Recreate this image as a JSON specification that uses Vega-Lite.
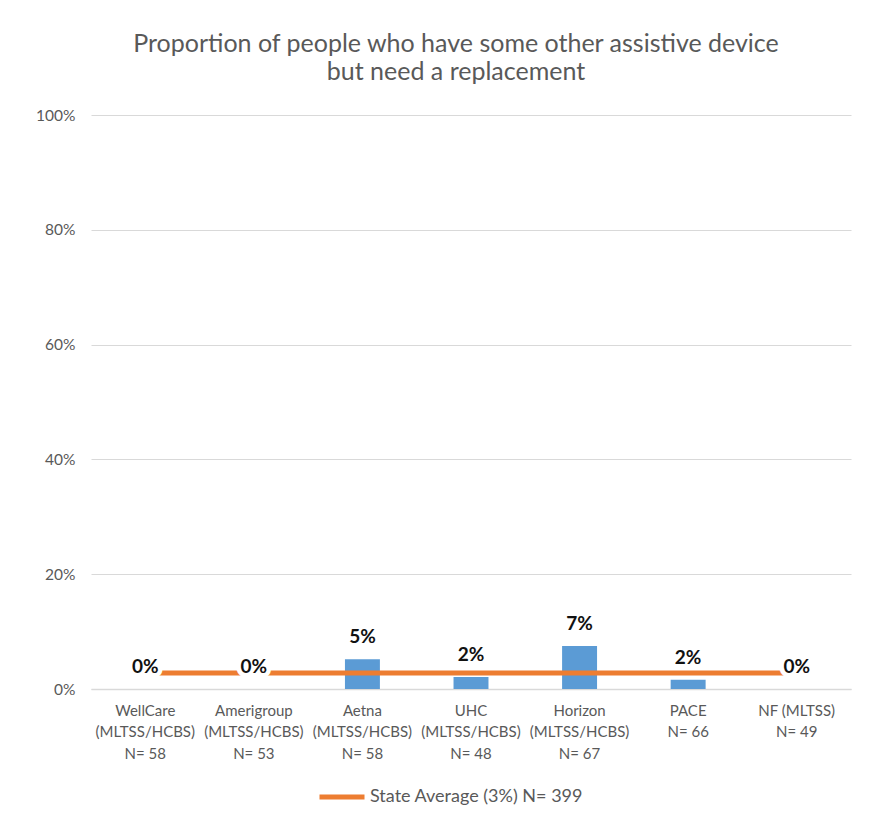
{
  "$schema": "https://vega.github.io/schema/vega-lite/v6.json",
  "width": 760,
  "height": 574,
  "autosize": {"type": "none"},
  "padding": {"left": 91, "top": 115, "right": 29, "bottom": 138},
  "background": "white",
  "config": {
    "font": "Lato",
    "view": {"stroke": null},
    "axis": {"labelFont": "Lato", "labelColor": "#595959", "labelFontSize": 15}
  },
  "title": {
    "text": ["Proportion of people who have some other assistive device", "but need a replacement"],
    "fontSize": 25,
    "fontWeight": "normal",
    "color": "#595959",
    "font": "Lato",
    "anchor": "middle",
    "frame": "group",
    "dx": -15,
    "offset": 23,
    "lineHeight": 28
  },
  "data": {
    "values": [
      {"plan": "WellCare|(MLTSS/HCBS)|N= 58", "value": 0.0, "avg": 0.028, "label": "0%"},
      {"plan": "Amerigroup|(MLTSS/HCBS)|N= 53", "value": 0.0, "avg": 0.028, "label": "0%"},
      {"plan": "Aetna|(MLTSS/HCBS)|N= 58", "value": 0.052, "avg": 0.028, "label": "5%"},
      {"plan": "UHC|(MLTSS/HCBS)|N= 48", "value": 0.021, "avg": 0.028, "label": "2%"},
      {"plan": "Horizon|(MLTSS/HCBS)|N= 67", "value": 0.075, "avg": 0.028, "label": "7%"},
      {"plan": "PACE|N= 66", "value": 0.016, "avg": 0.028, "label": "2%"},
      {"plan": "NF (MLTSS)|N= 49", "value": 0.0, "avg": 0.028, "label": "0%"}
    ]
  },
  "encoding": {
    "x": {
      "field": "plan",
      "type": "nominal",
      "sort": null,
      "scale": {"paddingInner": 0.678, "paddingOuter": 0.339},
      "axis": {
        "title": null,
        "labelAngle": 0,
        "labelExpr": "split(datum.label, '|')",
        "labelLineHeight": 21.5,
        "labelPadding": 14,
        "labelBaseline": "top",
        "ticks": false,
        "domainColor": "#D9D9D9",
        "domainWidth": 1.5
      }
    },
    "y": {
      "field": "value",
      "type": "quantitative",
      "scale": {"domain": [0, 1]},
      "axis": {
        "title": null,
        "format": ".0%",
        "values": [0, 0.2, 0.4, 0.6, 0.8, 1],
        "labelOverlap": false,
        "domain": false,
        "ticks": false,
        "gridColor": "#D9D9D9",
        "gridWidth": 1,
        "labelPadding": 16,
        "labelFontSize": 15.5
      }
    }
  },
  "layer": [
    {
      "mark": {"type": "bar", "color": "#5B9BD5"}
    },
    {
      "mark": {"type": "line", "strokeWidth": 5},
      "encoding": {
        "y": {"field": "avg", "type": "quantitative"},
        "color": {
          "datum": "State Average (3%) N= 399",
          "type": "nominal",
          "scale": {"range": ["#ED7D31"]},
          "legend": {
            "title": null,
            "orient": "none",
            "legendX": 226,
            "legendY": 657,
            "symbolType": "stroke",
            "symbolSize": 2025,
            "symbolStrokeWidth": 5,
            "labelFont": "Lato",
            "labelFontSize": 18,
            "labelColor": "#595959",
            "labelOffset": 3,
            "labelLimit": 0
          }
        }
      }
    },
    {
      "mark": {"type": "text", "dy": -22, "baseline": "middle", "fontSize": 19, "fontWeight": "bold", "stroke": "white", "strokeWidth": 9, "strokeJoin": "miter", "color": "white"},
      "encoding": {
        "text": {"field": "label"}
      }
    },
    {
      "mark": {"type": "text", "dy": -22, "baseline": "middle", "fontSize": 19, "fontWeight": "bold", "color": "#111111"},
      "encoding": {
        "text": {"field": "label"}
      }
    }
  ]
}
